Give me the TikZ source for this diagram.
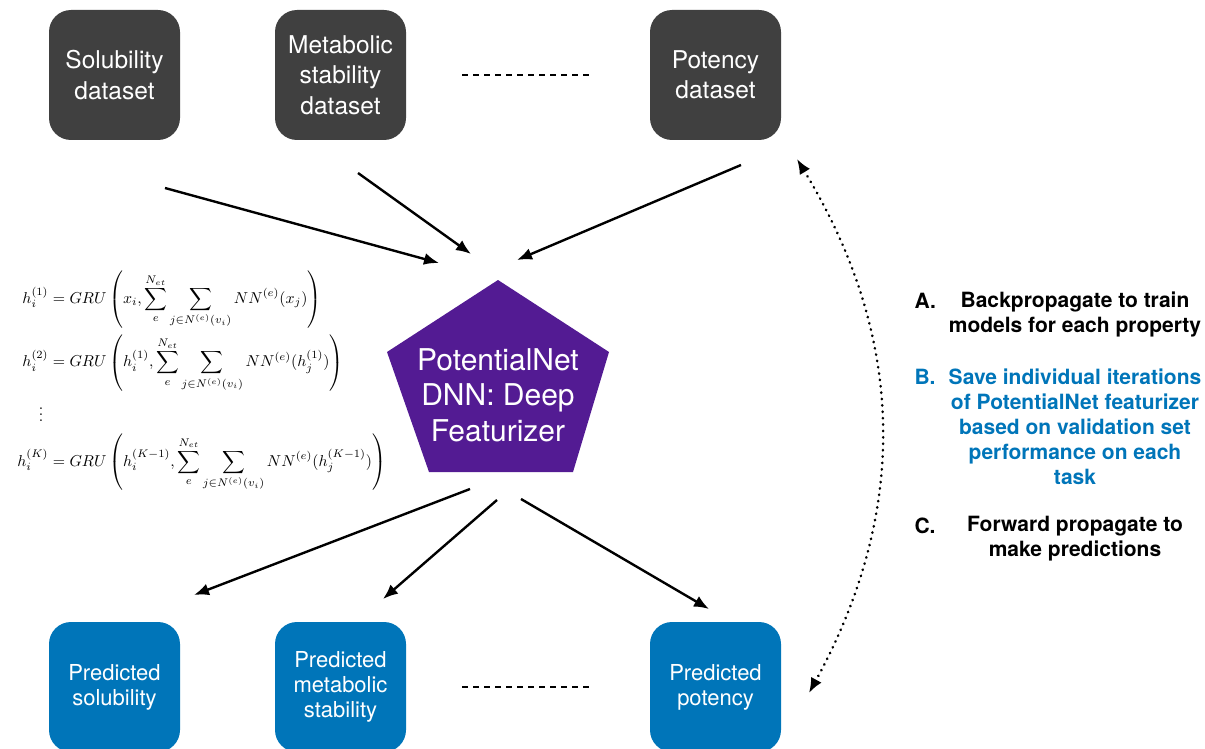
\documentclass[tikz,border=0pt]{standalone}
\usepackage{amsmath, amssymb}
\usepackage{fontspec}
\setsansfont{TeX Gyre Heros}
\usepackage{tikz}
\usetikzlibrary{shapes.geometric, arrows.meta, positioning, calc}
\usepackage{xcolor}

\definecolor{datagray}{HTML}{404040}
\definecolor{predblue}{HTML}{0075B9}
\definecolor{dnnpurple}{HTML}{531B93}

\begin{document}
\begin{tikzpicture}[
    x=1pt, y=-1pt,
    dataset/.style={rectangle, rounded corners=22pt, fill=datagray, text=white, minimum width=131pt, minimum height=130pt, align=center, font=\sffamily\fontsize{24.5}{30.5}\selectfont},
    predicted/.style={rectangle, rounded corners=22pt, fill=predblue, text=white, minimum width=131pt, minimum height=130pt, align=center, font=\sffamily\fontsize{22}{25}\selectfont},
    dnn/.style={text=white, align=center, font=\sffamily\fontsize{30}{35.5}\selectfont},
    itemlabel/.style={anchor=west, font=\sffamily\bfseries\fontsize{21}{25}\selectfont},
    itemtext/.style={align=center, font=\sffamily\bfseries\fontsize{21}{25}\selectfont},
    feed/.style={draw, -{Latex[length=15pt, width=12pt]}, line width=2.4pt},
    gap/.style={draw, line width=2.4pt, dash pattern=on 6pt off 5pt},
    loopback/.style={draw, {Latex[length=15pt, width=12pt]}-{Latex[length=15pt, width=12pt]}, line width=2.6pt, line cap=round, dash pattern=on 0.4pt off 6pt}
]
    \useasboundingbox (0,0) rectangle (1205,749);

    % Datasets
    \node[dataset] (solubility) at (114.5,75) {Solubility\\dataset};
    \node[dataset] (metabolic) at (340.5,75) {Metabolic\\stability\\dataset};
    \node[dataset] (potency) at (715.5,75) {Potency\\dataset};

    % Featurizer
    \fill[dnnpurple] (498,280) -- (609,352) -- (573,472) -- (429,472) -- (387,352) -- cycle;
    \node[dnn] (dnn) at (498,395) {PotentialNet\\DNN: Deep\\Featurizer};

    % Predictions
    \node[predicted] (predsol) at (114.5,687) {Predicted\\solubility};
    \node[predicted] (predmet) at (340.5,687) {Predicted\\metabolic\\stability};
    \node[predicted] (predpot) at (715.5,687) {Predicted\\potency};

    % Update equations
    \node[anchor=west, inner sep=0pt, scale=1.58] (gnn) at (17,381) {$\begin{aligned}
        h_i^{(1)} &= GRU\left(x_i,\sum_e^{N_{et}}\sum_{j\in N^{(e)}(v_i)} NN^{(e)}(x_j)\right)\\
        h_i^{(2)} &= GRU\left(h_i^{(1)},\sum_e^{N_{et}}\sum_{j\in N^{(e)}(v_i)} NN^{(e)}(h_j^{(1)})\right)\\
        \vdots\ &\\
        h_i^{(K)} &= GRU\left(h_i^{(K-1)},\sum_e^{N_{et}}\sum_{j\in N^{(e)}(v_i)} NN^{(e)}(h_j^{(K-1)})\right)
    \end{aligned}$};

    % Steps
    \node[itemlabel] (labelA) at (911,301) {A.};
    \node[itemtext] (textA) at (1075,314) {Backpropagate to train\\models for each property};
    \node[itemlabel, text=predblue] (labelB) at (911,377) {B.};
    \node[itemtext, text=predblue] (textB) at (1075,427) {Save individual iterations\\of PotentialNet featurizer\\based on validation set\\performance on each\\task};
    \node[itemlabel] (labelC) at (911,526) {C.};
    \node[itemtext] (textC) at (1075,538.5) {Forward propagate to\\make predictions};

    % Arrow ends
    \coordinate (solout) at (165,188);
    \coordinate (solin) at (439,263);
    \coordinate (metout) at (358,173);
    \coordinate (metin) at (471,254);
    \coordinate (potout) at (741,165);
    \coordinate (potin) at (517,260);
    \coordinate (dnnsol) at (470,489);
    \coordinate (tosol) at (194,595);
    \coordinate (dnnmet) at (497,500);
    \coordinate (tomet) at (383,599);
    \coordinate (dnnpot) at (521,499);
    \coordinate (topot) at (709,609);
    \coordinate (backtop) at (797,159);
    \coordinate (backbot) at (809,693);

    % Connections
    \draw[feed] (solout) -- (solin);
    \draw[feed] (metout) -- (metin);
    \draw[feed] (potout) -- (potin);
    \draw[feed] (dnnsol) -- (tosol);
    \draw[feed] (dnnmet) -- (tomet);
    \draw[feed] (dnnpot) -- (topot);
    \draw[gap, shorten <=56pt, shorten >=56pt] (metabolic) -- (potency);
    \draw[gap, shorten <=56pt, shorten >=56pt] (predmet) -- (predpot);
    \draw[loopback] (backtop) to[bend left=30] (backbot);
\end{tikzpicture}
\end{document}
